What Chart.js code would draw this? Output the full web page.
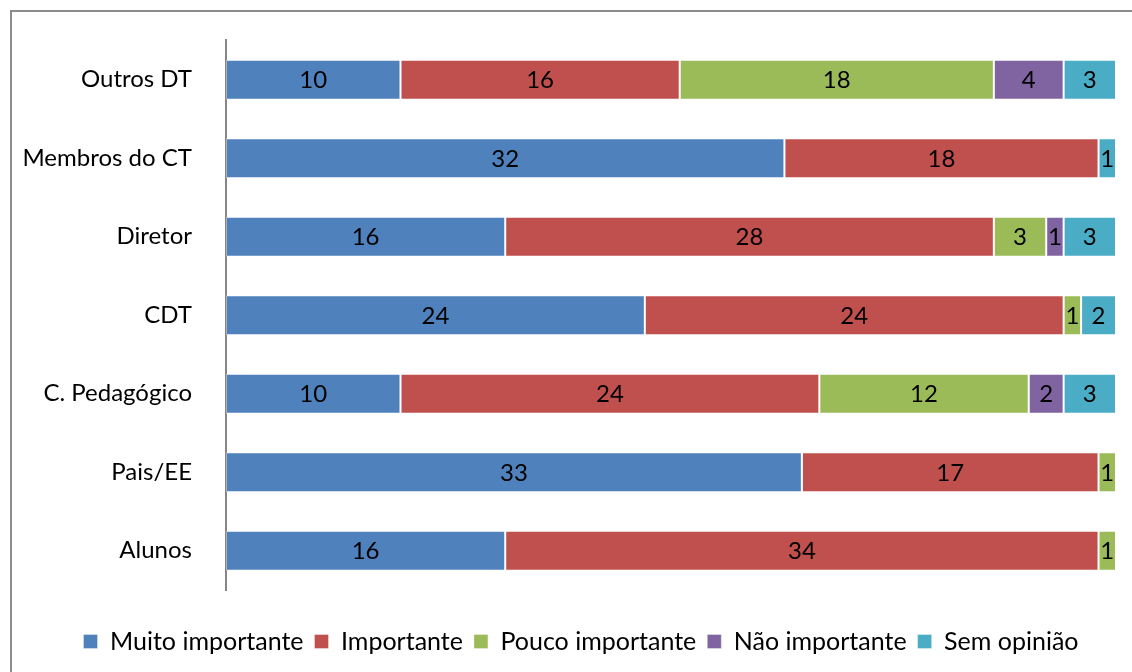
<!DOCTYPE html>
<html>
<head>
<meta charset="utf-8">
<script src="https://cdn.jsdelivr.net/npm/chart.js@4/dist/chart.umd.min.js"></script>
<style>
  html, body { margin: 0; padding: 0; background: #fff; }
  #wrap { position: relative; width: 1132px; height: 672px; }
</style>
</head>
<body>
<div id="wrap"><canvas id="chart" width="1132" height="672"></canvas></div>
<script>
const categories = ['Outros DT', 'Membros do CT', 'Diretor', 'CDT', 'C. Pedagógico', 'Pais/EE', 'Alunos'];
const muitoImportante = [10, 32, 16, 24, 10, 33, 16];
const importante      = [16, 18, 28, 24, 24, 17, 34];
const poucoImportante = [18, 0, 3, 1, 12, 1, 1];
const naoImportante   = [4, 0, 1, 0, 2, 0, 0];
const semOpiniao      = [3, 1, 3, 2, 3, 0, 0];
const totalRespostas = 51;

const FONT = 'Lato, Calibri, "Open Sans", sans-serif';

// outer frame of the chart object
const framePlugin = {
    id: 'frame',
    beforeDraw(chart) {
        const c = chart.ctx;
        c.save();
        c.strokeStyle = '#8c8c8c';
        c.lineWidth = 2;
        c.beginPath();
        c.moveTo(11, chart.height + 5);
        c.lineTo(11, 11);
        c.lineTo(chart.width + 5, 11);
        c.stroke();
        c.restore();
    }
};

// nudge the legend row a bit to the right, under the plot
const legendShift = {
    id: 'legendShift',
    afterLayout(chart) {
        if (chart.legend) chart.legend.left += 30;
    }
};

// value written in the middle of each segment
const valueLabels = {
    id: 'valueLabels',
    afterDatasetsDraw(chart) {
        const c = chart.ctx;
        c.save();
        c.font = '24px ' + FONT;
        c.fillStyle = '#000';
        c.textAlign = 'center';
        c.textBaseline = 'middle';
        chart.data.datasets.forEach((ds, i) => {
            const meta = chart.getDatasetMeta(i);
            meta.data.forEach((bar, j) => {
                const v = ds.data[j];
                if (!v) return;
                const p = bar.getCenterPoint();
                c.fillText(String(v), p.x, p.y + 1);
            });
        });
        c.restore();
    }
};

function serie(label, data, color) {
    return {
        label: label,
        data: data,
        backgroundColor: color,
        borderColor: 'rgba(255,255,255,0.35)',
        borderWidth: 1,
        borderSkipped: false,
        barPercentage: 0.51,
        categoryPercentage: 1
    };
}

new Chart(document.getElementById('chart'), {
    type: 'bar',
    data: {
        labels: categories,
        datasets: [
            serie('Muito importante', muitoImportante, '#4f81bd'),
            serie('Importante', importante, '#c0504d'),
            serie('Pouco importante', poucoImportante, '#9bbb59'),
            serie('Não importante', naoImportante, '#8064a2'),
            serie('Sem opinião', semOpiniao, '#4bacc6')
        ]
    },
    options: {
        indexAxis: 'y',
        responsive: false,
        animation: false,
        layout: { padding: { top: 40, right: 0, left: 0, bottom: 8 } },
        plugins: {
            legend: {
                position: 'bottom',
                labels: {
                    font: { family: FONT, size: 25 },
                    color: '#000',
                    boxWidth: 14,
                    boxHeight: 14,
                    padding: 11
                }
            },
            tooltip: { enabled: false }
        },
        scales: {
            x: {
                stacked: true,
                min: 0,
                max: totalRespostas,
                grid: { display: false },
                border: { display: false },
                ticks: { display: false },
                afterFit(s) { s.height = 28; }
            },
            y: {
                stacked: true,
                grid: { display: false },
                border: { display: true, color: '#868686', width: 2 },
                ticks: {
                    color: '#000',
                    font: { family: FONT, size: 24 },
                    padding: 26
                },
                afterFit(s) { s.width = 226; }
            },
            // empty spacer on the right side of the plot
            yRight: {
                position: 'right',
                grid: { display: false },
                border: { display: false },
                ticks: { display: false },
                afterFit(s) { s.width = 16; }
            }
        }
    },
    plugins: [framePlugin, legendShift, valueLabels]
});
</script>
</body>
</html>
